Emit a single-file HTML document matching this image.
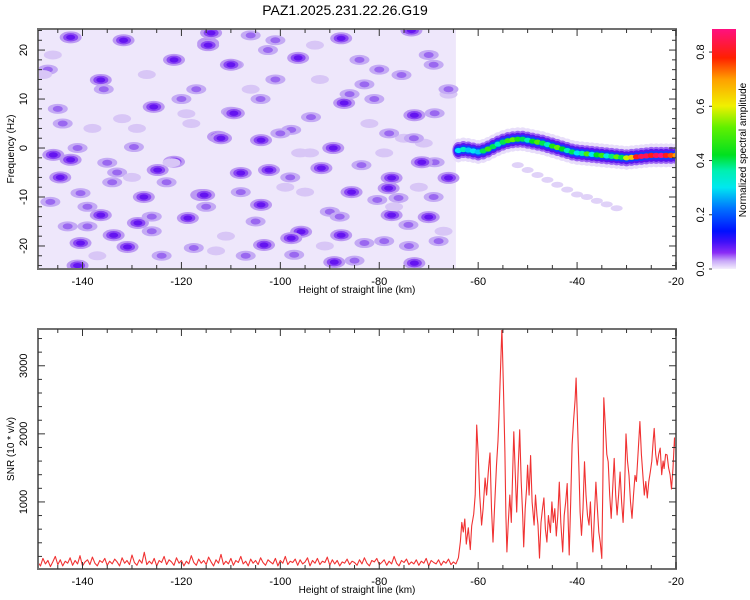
<!DOCTYPE html>
<html><head><meta charset="utf-8">
<style>
html,body{margin:0;padding:0;background:#fff;}
svg{display:block;font-family:"Liberation Sans",sans-serif;}
</style></head>
<body>
<svg id="chart" width="750" height="600" viewBox="0 0 750 600" xmlns="http://www.w3.org/2000/svg">
<defs>
<clipPath id="clipTop"><rect x="38" y="29" width="638" height="240"/></clipPath>
<clipPath id="clipBot"><rect x="38" y="329" width="638" height="240"/></clipPath>
<linearGradient id="cbGrad" x1="0" y1="1" x2="0" y2="0">
<stop offset="0" stop-color="#f4eefc"/><stop offset="0.034" stop-color="#c8a8f8"/><stop offset="0.068" stop-color="#8a2cf6"/>
<stop offset="0.113" stop-color="#4010f8"/><stop offset="0.158" stop-color="#0010ff"/><stop offset="0.25" stop-color="#0070ff"/>
<stop offset="0.34" stop-color="#00e8f0"/><stop offset="0.41" stop-color="#00f0b0"/><stop offset="0.475" stop-color="#00e020"/>
<stop offset="0.59" stop-color="#60f000"/><stop offset="0.68" stop-color="#f0f000"/><stop offset="0.79" stop-color="#ffa000"/>
<stop offset="0.88" stop-color="#ff2000"/><stop offset="1" stop-color="#ff1080"/>
</linearGradient>
</defs>
<text x="345" y="15" font-size="14" text-anchor="middle" fill="#000">PAZ1.2025.231.22.26.G19</text>
<g id="topPanel"></g>
<g id="botPanel"></g>
<g id="cbPanel"></g>
</svg>
<script>
// ---------- data ----------
const noiseKm = [-142.4,-131.7,-114.6,-121.5,-136.3,-135.7,-125.6,-145.9,-142.4,-129.6,-112.6,-121.5,-144.5,-124.8,-116,-140.4,-127.6,-139,-136.3,-128.8,-118.7,-140.4,-133.7,-130.9,-117.5,-146.5,-141,-108,-110,-109.4,-114,
 -114.6,-87.7,-73.5,-102.5,-96.4,-110,-75.5,-109.4,-93.8,-87.1,-72.9,-68.8,-112,-103.9,-97.8,-89.3,-102.3,-91.7,-83.6,-77.5,-68.8,-66,-115.4,-103.9,-85.6,-78.1,-76.1,-80.4,-77.5,-70,-95.8,-97.8,-87.7,-83,-74.1,-103.3,-97.2,-89.1,-72.9,-79,-71.4,
 -147,-138,-133,-127,-120,-106,-100,-92,-84,-79,-70,-66,-145,-137,-124,-118,-105,-99,-90,-82,-74,-67,-143,-132,-126,-111,-101,-94,-86,-75,-69,-148,-134,-122,-107,-95,-81,-71,
 -144,-139,-129,-123,-117,-113,-104,-98,-93,-88,-83,-77,-73,-68,-146,-135,-126,-119,-108,-101,-96,-85,-80,-72,-66,-141,-130,-115,-106,-91,-78,-69];
const noiseHz = [22.6,22,21.4,18,13.9,12,8.4,-1.4,-2.4,0.2,2.3,-2.8,-6,-4.5,-9.6,-9.2,-10,-12,-13.7,-15.3,-14.3,-19.4,-17.8,-20.2,-20.4,-11,-24,-5.1,7.4,17,23.5,
 21,22.4,24,20,18.4,17,14.9,7.1,6.3,9.2,6.7,7.1,2,1.6,3.7,0,-4.5,-4.1,-3.5,-6.1,-2.9,-6.1,-9.6,-11.6,-9,-8.2,-10.2,-10.6,-13.7,-14.1,-17.1,-18.4,-17.8,-19.4,-15.7,-19.8,-21.8,-23.3,-23.5,-19,-2.9,
 16,4,-5,15,10,12,3,14,18,-1,19,11,8,-22,-22,5,-15,-8,-13,5,-20,-17,-16,6,-14,-18,22,-1,11,2,-10,15,-7,-3,-22,-9,10,1,
 5,-16,4,-7,12,-21,10,-6,21,-14,13,-12,2,-19,19,-3,-17,7,-9,14,-1,-23,16,-8,12,0,-6,-12,23,-20,3,17];
const noiseLvl = [3,3,3,3,3,2,3,3,3,2,3,3,3,3,3,2,3,2,3,3,3,3,3,3,2,2,3,3,2,2,3,
 3,3,3,2,3,3,2,3,2,3,3,2,3,3,2,3,3,3,2,3,2,3,3,3,3,3,2,2,3,3,3,3,3,2,2,3,2,3,3,2,3,
 2,1,2,1,2,1,2,1,2,1,2,1,2,1,2,1,2,1,2,1,2,1,2,1,2,1,2,1,2,1,2,1,2,1,2,1,2,1,
 2,2,1,2,2,1,2,2,1,2,2,1,2,2,1,2,2,1,2,2,1,2,2,1,2,2,1,2,2,1,2,2];
const ridgeKm = [-64,-63,-62,-61,-60,-59,-58,-57,-56,-55,-54,-53,-52,-51,-50,-49,-48,-47,-46,-45,-44,-43,-42,-41,-40,-39,-38,-37,-36,-35,-34,-33,-32,-31,-30,-29,-28,-27,-26,-25,-24,-23,-22,-21,-20];
const ridgeHz = [-0.5,-0.3,-0.4,-0.6,-0.8,-0.6,-0.2,0.3,0.8,1.2,1.5,1.7,1.8,1.8,1.6,1.4,1.2,1.0,0.7,0.4,0.1,-0.2,-0.5,-0.8,-1.0,-1.1,-1.2,-1.3,-1.4,-1.5,-1.6,-1.7,-1.8,-1.9,-2.0,-1.9,-1.8,-1.7,-1.6,-1.5,-1.5,-1.5,-1.5,-1.5,-1.5];
const ridgeAmp = [0.3,0.35,0.28,0.3,0.28,0.4,0.48,0.4,0.35,0.4,0.48,0.52,0.45,0.4,0.35,0.42,0.5,0.4,0.35,0.45,0.52,0.42,0.35,0.4,0.3,0.36,0.5,0.3,0.42,0.48,0.32,0.38,0.52,0.4,0.58,0.65,0.8,0.85,0.85,0.8,0.85,0.88,0.8,0.75,0.7];
const branchKm = [-52,-50,-48,-46,-44,-42,-40,-38,-36,-34,-32];
const branchHz = [-3.5,-4.5,-5.5,-6.5,-7.5,-8.5,-9.5,-10,-10.8,-11.5,-12.3];
const baseStart = -149;
const baseVals = [110,60,170,90,140,50,120,200,80,150,60,130,100,180,70,140,90,210,60,120,
 150,80,190,100,60,140,110,170,70,130,90,160,120,60,180,100,140,80,220,110,
 70,150,100,260,80,130,90,170,60,140,110,200,80,150,120,70,180,100,140,60,
 130,90,210,110,70,160,100,140,80,190,120,60,150,100,230,80,130,90,170,70,
 140,110,200,90,130,60,160,100,140,80,180,110,70,150,120,90,170,60,140,100,
 200,80,130,110,160,70,150,90,120,180,60,140,100,170,80,130,110,190,70,150,
 90,140,60,120,100,160,80,130,110,70,150,90,180,100,60,140,120,170,80,110,
 150,70,130,90,200,100,60,140,110,160,80,120,90,150,70,130,100,170,60,140,
 110,90,150,70,130,100,160,80,120,90];
const sigKm = [-64,-63.6,-63.3,-63,-62.7,-62.4,-62,-61.6,-61.3,-60.9,-60.6,-60.3,-60,-59.7,-59.3,-59,-58.6,-58.3,-57.9,-57.6,-57.3,-57,-56.7,-56.3,-56,-55.8,-55.5,-55.2,-54.9,-54.6,-54.4,-54.2,-53.9,-53.6,-53.3,-53,-52.8,-52.5,-52.2,-51.9,-51.6,-51.3,-51,-50.8,-50.5,-50.2,-50,-49.7,-49.4,-49.1,-48.7,-48.4,-48.1,-47.9,-47.6,-47.3,-47,-46.7,-46.4,-46.1,-45.8,-45.4,-45.1,-44.8,-44.5,-44.2,-43.9,-43.6,-43.3,-42.9,-42.6,-42.3,-42,-41.8,-41.6,-41.3,-41,-40.7,-40.4,-40.2,-39.9,-39.6,-39.4,-39.1,-38.8,-38.5,-38.2,-37.9,-37.6,-37.3,-37,-36.8,-36.5,-36.2,-35.9,-35.6,-35.3,-35,-34.8,-34.6,-34.3,-34,-33.7,-33.4,-33.1,-32.8,-32.5,-32.2,-31.9,-31.6,-31.3,-31,-30.7,-30.4,-30.1,-29.8,-29.5,-29.2,-28.9,-28.6,-28.3,-28,-27.6,-27.3,-27,-26.7,-26.4,-26.1,-25.8,-25.5,-25.2,-24.9,-24.6,-24.4,-24.1,-23.8,-23.5,-23.2,-22.9,-22.6,-22.4,-22.1,-21.8,-21.5,-21.2,-20.9,-20.6,-20.3,-20];
const sigVals = [180,420,700,560,750,380,620,300,650,820,1100,2130,1700,1100,660,900,1350,1100,1500,1720,900,410,900,1540,1900,2230,2900,3560,2700,1735,800,265,700,1100,700,1500,2030,1400,850,1500,2060,1300,800,340,900,1200,1540,1100,1680,1000,660,1100,800,660,175,700,900,1060,600,410,800,550,1000,700,900,500,800,1290,700,265,800,1000,1270,700,220,1000,1840,2200,2500,2820,2130,1400,850,510,900,1590,1100,800,660,1000,500,265,800,1290,900,560,400,170,1200,2530,2130,1700,1590,1100,760,1200,1640,1100,810,1100,1440,1000,700,1200,2000,1600,1390,1000,760,1100,1390,1300,1800,2180,1700,1390,1100,1300,1060,1300,1440,1600,1900,2080,1700,1540,1700,1790,1400,1600,1490,1700,1690,1500,1400,1190,1500,1940,1700];
const xTicks = [-140,-120,-100,-80,-60,-40,-20];
const hzTicks = [-20,-10,0,10,20];
const snrTicks = [1000,2000,3000];
const cbTicks = [0.0,0.2,0.4,0.6,0.8];

// ---------- layout ----------
const NS="http://www.w3.org/2000/svg";
const L=38,R=676,TT=29,TB=269,BT=329,BB=569;
const X0=-149,X1=-20, HZ0=-24.7,HZ1=24.3, S0=15,S1=3540;
const xs=v=>L+(v-X0)/(X1-X0)*(R-L);
const yHz=v=>TB-(v-HZ0)/(HZ1-HZ0)*(TB-TT);
const ySnr=v=>BB-(v-S0)/(S1-S0)*(BB-BT);
const cbY=v=>269-v/0.885*240;
function mk(tag,attrs,parent){const e=document.createElementNS(NS,tag);for(const k in attrs)e.setAttribute(k,attrs[k]);parent.appendChild(e);return e;}
const cstops=[[0,[240,232,252]],[0.03,[200,168,248]],[0.06,[138,44,246]],[0.1,[64,16,248]],[0.14,[0,16,255]],[0.22,[0,112,255]],[0.3,[0,232,240]],[0.36,[0,240,176]],[0.42,[0,224,32]],[0.52,[96,240,0]],[0.6,[240,240,0]],[0.7,[255,160,0]],[0.78,[255,32,0]],[0.885,[255,16,128]]];
function cmap(v){for(let i=1;i<cstops.length;i++){if(v<=cstops[i][0]){const a=cstops[i-1],b=cstops[i];const t=(v-a[0])/(b[0]-a[0]);const c=a[1].map((q,j)=>Math.round(q+(b[1][j]-q)*t));return `rgb(${c[0]},${c[1]},${c[2]})`;}}return 'rgb(255,16,128)';}

const topG=document.getElementById('topPanel'), botG=document.getElementById('botPanel'), cbG=document.getElementById('cbPanel');
// ---------- spectrogram ----------
const gh=mk('g',{'clip-path':'url(#clipTop)'},topG);


const noiseBg=mk('rect',{x:L,y:TT,width:xs(-64.5)-L,height:TB-TT,fill:'#eee7fb'},gh);


for(let i=0;i<noiseKm.length;i++){
  const cx=xs(noiseKm[i]), cy=yHz(noiseHz[i]), lv=noiseLvl[i];
  const g=mk('g',{},gh);
  
  
  if(lv===1){mk('ellipse',{cx,cy,rx:9,ry:4.5,fill:'#d8c6f6'},g);}
  else if(lv===2){mk('ellipse',{cx,cy,rx:10,ry:5,fill:'#c4aaf4'},g);mk('ellipse',{cx,cy,rx:5,ry:3,fill:'#9a68f0'},g);}
  else {mk('ellipse',{cx,cy,rx:11,ry:6,fill:'#bc9af2'},g);mk('ellipse',{cx,cy,rx:7.5,ry:4.2,fill:'#8a48f2'},g);mk('ellipse',{cx,cy,rx:4.5,ry:2.6,fill:'#6414f0'},g);}
}
for(let i=0;i<branchKm.length;i++){
  const e=mk('ellipse',{cx:xs(branchKm[i]),cy:yHz(branchHz[i]),rx:6,ry:3,fill:'#e0d2f8'},gh);
  
  
}
const layers=[[7,12,'#e8defa'],[6,8.5,'#9c64f2'],[5,6.5,'#5a14f0'],[4.5,4.5,'#1040ff'],[3.5,2.6,null]];
layers.forEach(([rx,ry,col])=>{
  for(let i=0;i<ridgeKm.length;i++){
    const e=mk('ellipse',{cx:xs(ridgeKm[i]),cy:yHz(ridgeHz[i]),rx,ry,fill:col||cmap(ridgeAmp[i])},gh);
    
    
  }
});
// ---------- axes helper ----------
function frame(T,B,parent){
  const r=mk('rect',{x:L,y:T,width:R-L,height:B-T,fill:'none',stroke:'#707070','stroke-width':2},parent);
  
  
  for(let v=-145;v<=-20;v+=5){const x=xs(v);const len=(v%20===0)?7:4;
    mk('line',{x1:x,y1:B,x2:x,y2:B-len,stroke:'#333','stroke-width':1},parent);
    mk('line',{x1:x,y1:T,x2:x,y2:T+len,stroke:'#333','stroke-width':1},parent);}
  xTicks.forEach(v=>{const t=mk('text',{x:xs(v),y:B+16,'font-size':11,'text-anchor':'middle'},parent);t.textContent=v;
    
    });
  const xt=mk('text',{x:357,y:B+24,'font-size':10,'text-anchor':'middle'},parent);xt.textContent='Height of straight line (km)';
  
  
}
frame(TT,TB,topG);
for(let v=-24;v<=24;v+=2){const y=yHz(v);const len=(v%10===0)?7:4;
  mk('line',{x1:L,y1:y,x2:L+len,y2:y,stroke:'#333'},topG);mk('line',{x1:R,y1:y,x2:R-len,y2:y,stroke:'#333'},topG);}
hzTicks.forEach(v=>{const y=yHz(v);const t=mk('text',{x:27,y,'font-size':11,'text-anchor':'middle',transform:`rotate(-90 27 ${y})`},topG);t.textContent=v;
  
  });
const yt1=mk('text',{x:14,y:149,'font-size':10,'text-anchor':'middle',transform:'rotate(-90 14 149)'},topG);yt1.textContent='Frequency (Hz)';



// ---------- SNR ----------
const pts=[];
baseVals.forEach((v,i)=>pts.push([baseStart+i*0.5,v]));
sigKm.forEach((k,i)=>pts.push([k,sigVals[i]]));
const gl=mk('g',{'clip-path':'url(#clipBot)'},botG);
const line=mk('polyline',{points:pts.map(p=>xs(p[0]).toFixed(1)+','+ySnr(p[1]).toFixed(1)).join(' '),fill:'none',stroke:'#f03232','stroke-width':1.1,'stroke-linejoin':'round'},gl);


frame(BT,BB,botG);
for(let v=200;v<=3400;v+=200){const y=ySnr(v);const len=(v%1000===0)?7:4;
  mk('line',{x1:L,y1:y,x2:L+len,y2:y,stroke:'#333'},botG);mk('line',{x1:R,y1:y,x2:R-len,y2:y,stroke:'#333'},botG);}
snrTicks.forEach(v=>{const y=ySnr(v);const t=mk('text',{x:27,y,'font-size':11,'text-anchor':'middle',transform:`rotate(-90 27 ${y})`},botG);t.textContent=v;
  
  });
const yt2=mk('text',{x:14,y:449,'font-size':10,'text-anchor':'middle',transform:'rotate(-90 14 449)'},botG);yt2.textContent='SNR (10 * v/v)';



// ---------- colorbar ----------
const cbr=mk('rect',{x:712,y:29,width:24,height:240,fill:'url(#cbGrad)'},cbG);


cbTicks.forEach(v=>{const y=cbY(v);mk('line',{x1:709,y1:y,x2:712,y2:y,stroke:'#333'},cbG);
  const t=mk('text',{x:704,y,'font-size':11,'text-anchor':'middle',transform:`rotate(-90 704 ${y})`},cbG);t.textContent=v.toFixed(1);
  
  });
const cbt=mk('text',{x:746,y:150,'font-size':10,'text-anchor':'middle',transform:'rotate(-90 746 150)'},cbG);cbt.textContent='Normalized spectral amplitude';


</script>
</body></html>
